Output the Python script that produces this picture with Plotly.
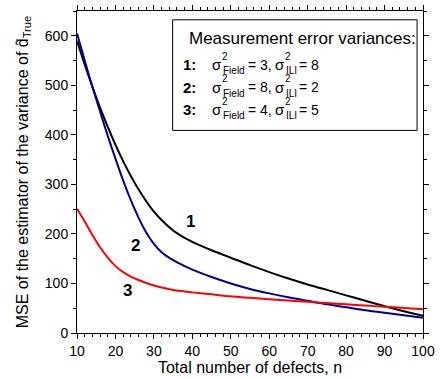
import plotly.graph_objects as go

n_defects = [10, 12, 14, 16, 18, 20, 22, 24, 26, 28, 30, 32, 35, 38, 40, 45, 50, 55, 60, 65, 70, 75, 80, 85, 90, 95, 100]
mse_1 = [590, 542, 497, 455, 416, 380, 347, 317, 290, 266, 245, 228, 207, 192, 184, 167, 152, 137, 123, 110, 98, 87, 76, 65, 54, 44, 35]
mse_2 = [605, 550, 497, 447, 398, 352, 308, 268, 233, 203, 180, 163, 147, 135, 128, 113, 100, 89, 80, 72, 65, 58, 52, 46, 41, 36, 31]
mse_3 = [251, 225, 198, 173, 152, 135, 123, 114, 107, 101, 96, 92, 87, 84, 82, 78, 74, 71, 68, 65.5, 63, 60.5, 58, 55.5, 53, 50.5, 48]

x_ticks = [10, 20, 30, 40, 50, 60, 70, 80, 90, 100]
y_ticks = [0, 100, 200, 300, 400, 500, 600]

series_names = ["1", "2", "3"]
series_colors = ["#000000", "#00008B", "#FF0000"]
label_pos = [(39.4, 226), (25.3, 177), (23.2, 85)]

legend_title = "Measurement error variances:"
field_vals = ["3", "8", "4"]
ili_vals = ["8", "2", "5"]

W, H = 440, 379
L, R, T, B = 77, 12, 5, 45
PW, PH = W - L - R, H - T - B
FONT = "Liberation Sans, Arial, sans-serif"


def px(x):
    return (x - L) / PW


def py(y):
    return (H - B - y) / PH


fig = go.Figure()
for ys, name, col in zip([mse_1, mse_2, mse_3], series_names, series_colors):
    fig.add_trace(go.Scatter(x=n_defects, y=ys, mode="lines", name=name,
                             line=dict(color=col, width=2, shape="spline", smoothing=0.8),
                             showlegend=False))

annotations = []
for name, (lx, ly) in zip(series_names, label_pos):
    annotations.append(dict(x=lx, y=ly, xref="x", yref="y", text=f"<b>{name}</b>",
                            showarrow=False, font=dict(size=17, color="black", family=FONT)))

shapes = [dict(type="rect", xref="paper", yref="paper", x0=px(174), x1=px(422), y0=py(127), y1=py(14),
               line=dict(color="black", width=1), fillcolor="white", layer="above")]


def txt(x, y, s, size=15):
    annotations.append(dict(x=px(x), y=py(y), xref="paper", yref="paper", text=s, showarrow=False,
                            xanchor="left", yanchor="middle", borderpad=0,
                            font=dict(size=size, color="black", family=FONT)))


txt(190, 33, legend_title, 17)
rows_y = [60, 83, 106]
for i in range(3):
    y = rows_y[i]
    txt(184, y, f"<b>{i + 1}:</b>")
    txt(213, y, "σ")
    txt(223, y - 9, "2", 10)
    txt(224, y + 6, "Field", 10)
    txt(249, y, f"= {field_vals[i]},", 14)
    txt(277, y, "σ")
    txt(287, y - 9, "2", 10)
    txt(288, y + 6, "ILI", 10)
    txt(301, y, f"= {ili_vals[i]}", 14)

fig.update_layout(
    width=W, height=H,
    margin=dict(l=L, r=R, t=T, b=B),
    paper_bgcolor="white", plot_bgcolor="white",
    font=dict(family=FONT, size=14, color="black"),
    annotations=annotations, shapes=shapes,
    xaxis=dict(range=[10, 100], tickmode="array", tickvals=x_ticks, showgrid=False, zeroline=False,
               showline=True, linecolor="black", linewidth=1, mirror="ticks",
               ticks="outside", ticklen=5, tickwidth=1, tickcolor="black",
               minor=dict(dtick=2, tick0=10, ticks="outside", ticklen=3, tickcolor="black", showgrid=False),
               tickfont=dict(size=14),
               title=dict(text="Total number of defects, n", font=dict(size=16), standoff=4)),
    yaxis=dict(range=[0, 650], tickmode="array", tickvals=y_ticks, showgrid=False, zeroline=False,
               showline=True, linecolor="black", linewidth=1, mirror="ticks",
               ticks="outside", ticklen=5, tickwidth=1, tickcolor="black",
               minor=dict(dtick=50, tick0=0, ticks="outside", ticklen=3, tickcolor="black", showgrid=False),
               tickfont=dict(size=14),
               title=dict(text="MSE of the estimator of the variance of d\u0302<sub>True</sub>",
                          font=dict(size=16), standoff=12)),
)

fig.write_html("out.html")
